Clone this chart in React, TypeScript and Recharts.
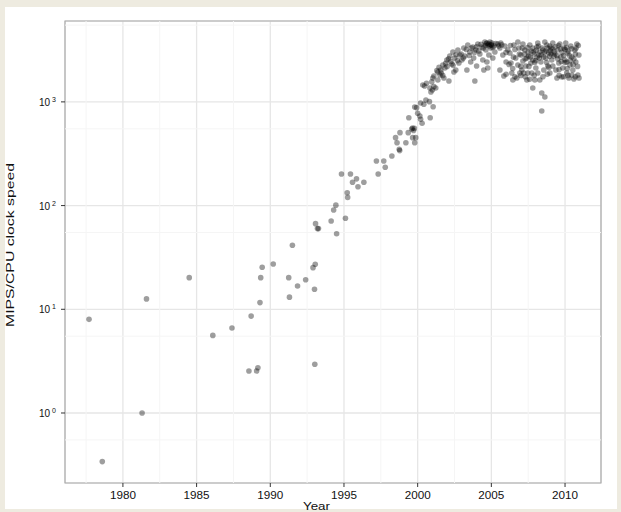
import React from "react";
import {
  ScatterChart,
  Scatter,
  XAxis,
  YAxis,
  CartesianGrid,
  ReferenceLine,
  ReferenceArea,
} from "recharts";

// year, MIPS per MHz
const early: [number, number][] = [
  [1977.7, 8.0], [1978.6, 0.34], [1981.3, 1.0], [1981.6, 12.6], [1984.5, 20.2],
  [1986.1, 5.6], [1987.4, 6.6], [1988.55, 2.54], [1988.7, 8.6], [1989.07, 2.54],
  [1989.16, 2.73], [1989.3, 11.6], [1989.35, 20.2], [1989.45, 25.4], [1990.2, 27.3],
  [1991.25, 20.2], [1991.3, 13.1], [1991.5, 41.4], [1991.85, 16.8], [1992.4, 19.3],
  [1992.9, 25.2], [1993.0, 15.6], [1993.02, 2.95], [1993.05, 27.2], [1993.07, 67],
  [1993.2, 60], [1993.27, 60], [1994.13, 71], [1994.3, 90.7], [1994.45, 101],
  [1994.5, 53.6], [1994.83, 202], [1995.1, 75.4], [1995.22, 133], [1995.25, 120],
  [1995.44, 202], [1995.58, 168], [1995.85, 181], [1995.95, 152], [1996.35, 168],
  [1997.2, 269], [1997.32, 202], [1997.7, 269], [1997.8, 234], [1998.25, 301],
  [1998.5, 452], [1998.6, 404], [1998.75, 349], [1998.78, 339], [1998.8, 505],
  [1999.2, 404], [1999.36, 505], [1999.4, 704], [1999.6, 548], [1999.65, 560],
  [1999.66, 452], [1999.72, 530], [1999.78, 555], [1999.8, 404], [1999.8, 893],
  [1999.87, 452], [1999.93, 880],
];

const ramp: [number, number][] = [
  [2000.0, 776], [2000.15, 731], [2000.2, 679], [2000.3, 622], [2000.2, 977],
  [2000.42, 948], [2000.35, 1455], [2000.47, 1423], [2000.6, 1511], [2000.56, 1043],
  [2000.8, 1005], [2000.85, 704], [2000.83, 1361], [2000.9, 1247], [2000.96, 1560],
  [2001.0, 1302], [2001.03, 1700], [2001.05, 899], [2001.1, 1403], [2001.1, 1778],
  [2001.23, 1361], [2001.37, 1942], [2001.37, 1625], [2001.51, 1817], [2001.57, 2030],
  [2001.71, 2268], [2001.78, 1700], [2001.85, 2123],
];

const peak: [number, number][] = [
  [2001.98, 2535], [2002.12, 1589], [2002.18, 2773], [2002.32, 2320], [2002.39, 3030],
  [2002.46, 1942], [2002.52, 2650], [2002.59, 2030], [2002.73, 3165], [2002.8, 2372],
  [2002.86, 2833], [2003.0, 2535], [2003.13, 3310], [2003.2, 2773], [2003.34, 2030],
  [2003.4, 3540], [2003.54, 3030], [2003.6, 2427], [2003.74, 3384], [2003.8, 2650],
  [2003.88, 1589], [2003.95, 3165], [2004.0, 2218], [2004.08, 3617], [2004.22, 2900],
  [2004.36, 3384], [2004.42, 2535], [2004.49, 2030], [2004.56, 3785], [2004.63, 3165],
  [2004.7, 2427], [2004.7, 3700], [2004.76, 3540], [2004.76, 2123], [2004.83, 2833],
  [2004.83, 3617], [2004.9, 3785], [2004.97, 3310], [2004.97, 3540], [2005.03, 3700],
  [2005.1, 2650], [2005.17, 3460], [2005.24, 3030],
];

const multicore: [number, number][] = [
  [2005.44, 3617], [2005.58, 3310], [2005.64, 3700], [2005.78, 2833], [2005.92, 3460],
  [2006.0, 2427], [2006.12, 3165], [2006.26, 2963], [2006.33, 2372], [2006.39, 1900],
  [2006.46, 1625], [2006.53, 3540], [2005.58, 2030], [2005.85, 1778], [2006.66, 2650],
  [2006.73, 1700], [2006.8, 2268], [2006.87, 3310], [2006.93, 1900], [2007.0, 2833],
  [2007.07, 2030], [2007.14, 2478], [2007.2, 1900], [2007.27, 3165], [2007.34, 2218],
  [2007.41, 1625], [2007.48, 1900], [2007.54, 2773], [2007.61, 3540], [2007.68, 2372],
  [2007.75, 1900], [2007.81, 1361], [2007.88, 3030], [2007.95, 1625], [2007.14, 3617],
  [2007.41, 2650], [2007.81, 2535], [2006.8, 3785], [2008.02, 2123], [2008.09, 3384],
  [2008.15, 1900], [2008.22, 2833], [2008.29, 1625], [2008.36, 2427], [2008.42, 1218],
  [2008.49, 3165], [2008.56, 2030], [2008.63, 1114], [2008.42, 817], [2008.7, 2650],
  [2008.76, 3540], [2008.83, 2218], [2008.9, 2963], [2008.97, 1900], [2009.04, 3310],
  [2009.1, 2535], [2009.17, 3700], [2009.24, 2773], [2008.15, 3700], [2008.63, 3785],
  [2008.29, 3030], [2008.97, 3460], [2009.17, 2218], [2009.38, 2030], [2009.45, 1700],
  [2009.51, 3165], [2009.58, 2372], [2009.65, 3617], [2009.72, 2710], [2009.78, 1738],
  [2009.85, 2123], [2009.92, 3310], [2009.99, 2535], [2010.05, 3700], [2010.12, 1900],
  [2010.19, 2963], [2010.26, 1700], [2010.33, 2268], [2010.39, 3460], [2010.46, 2710],
  [2010.53, 2030], [2010.6, 1662], [2010.67, 3165], [2010.73, 2427], [2010.8, 3617],
  [2010.87, 1817], [2010.94, 2833], [2010.46, 1817], [2010.12, 2427], [2007.9, 2900],
  [2008.1, 2700], [2008.4, 2850], [2008.6, 3000], [2008.8, 3300], [2009.0, 3100],
  [2009.3, 2900], [2009.5, 2600], [2009.8, 3000], [2010.0, 3200], [2010.3, 2800],
  [2010.6, 2600], [2007.3, 2600], [2007.7, 3100], [2006.5, 2700], [2006.2, 2300],
];

// overlapping chips in the dark band, 2001-2011
const denseCore: [number, number][] = [
  [2001.3, 2000], [2001.45, 2150], [2001.6, 1900], [2001.7, 1800], [2001.9, 2350],
  [2002.0, 2200], [2002.1, 2600], [2002.25, 2450], [2002.4, 2250], [2002.6, 2850],
  [2002.7, 2500], [2002.95, 2900], [2003.1, 2650], [2003.3, 3200], [2003.5, 2800],
  [2003.65, 3300], [2003.85, 3000], [2004.0, 3400], [2004.15, 3100], [2004.3, 3600],
  [2004.45, 3300], [2004.6, 3500], [2004.65, 3650], [2004.85, 3450], [2005.0, 3550],
  [2005.1, 3350], [2005.3, 3650], [2005.5, 3450], [2005.7, 3550],
  [2006.0, 1850], [2006.6, 1750], [2007.0, 1800], [2007.3, 1750], [2007.6, 1650],
  [2007.9, 1800], [2008.5, 1750], [2008.8, 1850], [2009.6, 1800], [2009.9, 1750],
  [2010.2, 1800], [2010.7, 1750], [2010.95, 1700],
  [2006.0, 3000], [2006.3, 3500], [2006.6, 3200], [2006.9, 2900], [2007.1, 3300],
  [2007.25, 2900], [2007.45, 3350], [2007.5, 3000], [2007.65, 2700], [2007.8, 3300],
  [2007.95, 2400], [2008.05, 3150], [2008.2, 3450], [2008.25, 2650], [2008.45, 3300],
  [2008.55, 2700], [2008.7, 3100], [2008.75, 2400], [2008.95, 2750], [2009.05, 2900],
  [2009.15, 3250], [2009.25, 3050], [2009.35, 3400], [2009.45, 2800], [2009.55, 3500],
  [2009.7, 3250], [2009.75, 2450], [2009.9, 2800], [2010.0, 2400], [2010.1, 3350],
  [2010.2, 3100], [2010.35, 2500], [2010.45, 3250], [2010.55, 2300], [2010.7, 2900],
  [2010.75, 3300], [2010.85, 2200], [2010.9, 3500], [2008.0, 2500], [2007.55, 2200],
  [2007.0, 2200], [2006.45, 2100], [2009.6, 2050], [2010.15, 2100], [2008.9, 2150],
];

const xTicks = [1980, 1985, 1990, 1995, 2000, 2005, 2010];
const xMinor = [1977.5, 1982.5, 1987.5, 1992.5, 1997.5, 2002.5, 2007.5];
const yTicks = [1, 10, 100, 1000];
const yMinor = [0.55, 5.5, 55, 550, 5500];
const xDomain: [number, number] = [1976.07, 2012.44];
const yDomain: [number, number] = [0.2113, 6026];

const points = [...early, ...ramp, ...peak, ...multicore, ...denseCore].map(([year, mips]) => ({ year, mips }));

const FONT = "'Liberation Sans', Arial, sans-serif";

function XTick(props: any) {
  const { x, y, payload } = props;
  return (
    <text x={x} y={y + 9.5} textAnchor="middle" fontSize={10} fontFamily={FONT} fill="#111"
      textLength={26} lengthAdjust="spacingAndGlyphs">
      {payload.value}
    </text>
  );
}

function YTick(props: any) {
  const { x, y, payload } = props;
  const exp = Math.round(Math.log10(payload.value));
  return (
    <g fontFamily={FONT} fill="#111">
      <text x={x - 9} y={y + 4} textAnchor="end" fontSize={10}>10</text>
      <text x={x - 7} y={y} fontSize={7}>{exp}</text>
    </g>
  );
}

function YLabel(props: any) {
  const { viewBox } = props;
  const cx = viewBox.x + 9;
  const cy = 245;
  return (
    <text x={cx} y={cy} transform={`rotate(-90 ${cx} ${cy})`} textAnchor="middle"
      fontSize={11} fontFamily={FONT} fill="#111" textLength={164} lengthAdjust="spacingAndGlyphs">
      MIPS/CPU clock speed
    </text>
  );
}

function XLabel(props: any) {
  const { viewBox } = props;
  return (
    <text x={316.5} y={viewBox.y + 27} textAnchor="middle" fontSize={11} fontFamily={FONT}
      fill="#111" textLength={27} lengthAdjust="spacingAndGlyphs">
      Year
    </text>
  );
}

function Dot(props: any) {
  const { cx, cy } = props;
  if (cx == null || cy == null) return <g />;
  return <circle cx={cx} cy={cy} r={2.8} fill="#000" fillOpacity={0.38} />;
}

export default function App() {
  return (
    <div style={{ position: "absolute", left: 0, top: 0, width: 621, height: 512, background: "#eeebe0", overflow: "hidden" }}>
      <div style={{ position: "absolute", left: 5, top: 7, width: 612, height: 502, background: "#fff" }} />
      <div style={{ position: "absolute", left: 0, top: 0 }}>
        <ScatterChart width={621} height={512} margin={{ top: 21, right: 20, bottom: 5, left: 5 }}>
          {xMinor.map((v) => (
            <ReferenceLine key={"xm" + v} x={v} stroke="#f5f5f5" strokeWidth={1} />
          ))}
          {yMinor.map((v) => (
            <ReferenceLine key={"ym" + v} y={v} stroke="#f5f5f5" strokeWidth={1} />
          ))}
          <CartesianGrid stroke="#e6e6e6" strokeWidth={1.3} />
          <XAxis type="number" dataKey="year" domain={xDomain} ticks={xTicks} allowDataOverflow
            height={24} tickSize={4} tickMargin={2} axisLine={false}
            tickLine={{ stroke: "#333" }} tick={<XTick />} label={{ content: <XLabel /> }} />
          <YAxis type="number" dataKey="mips" scale="log" domain={yDomain} ticks={yTicks} allowDataOverflow
            width={60} tickSize={4} tickMargin={2} axisLine={false}
            tickLine={{ stroke: "#333" }} tick={<YTick />} label={{ content: <YLabel /> }} />
          <ReferenceArea x1={xDomain[0]} x2={xDomain[1]} y1={yDomain[0]} y2={yDomain[1]}
            fill="none" stroke="#ababab" strokeWidth={1.2} fillOpacity={0} />
          <Scatter data={points} shape={<Dot />} isAnimationActive={false} />
        </ScatterChart>
      </div>
    </div>
  );
}
